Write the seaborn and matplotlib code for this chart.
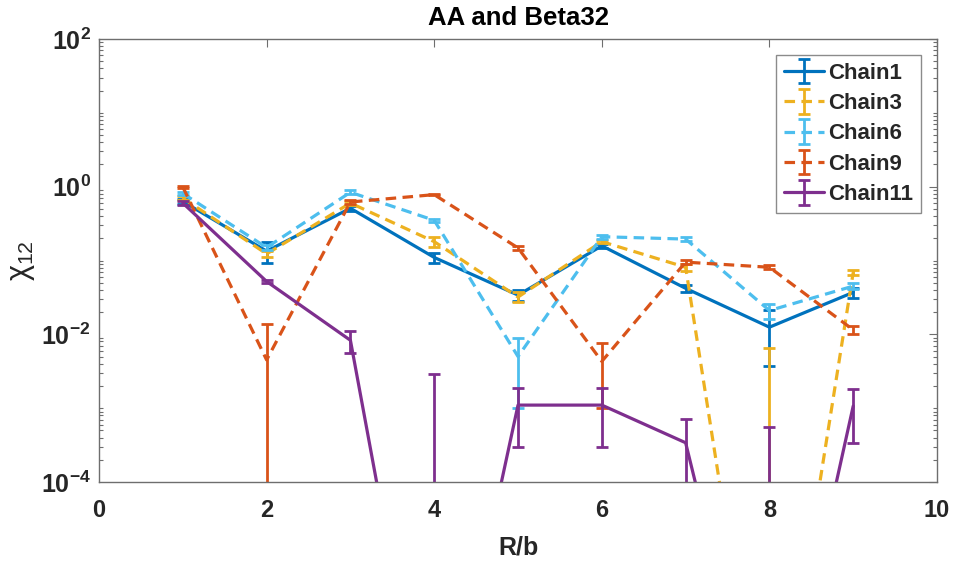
# Chi_12 vs R/b for several chains (AA and Beta32), log y axis with error bars

import numpy as np
import pandas as pd
import matplotlib
matplotlib.use("Agg")
import matplotlib.pyplot as plt
import matplotlib.ticker as mticker
from matplotlib.container import ErrorbarContainer
from matplotlib.legend_handler import HandlerErrorbar, HandlerTuple
import seaborn as sns

# Data (tiny values sit far below the axis floor)
r_values = [1, 2, 3, 4, 5, 6, 7, 8, 9]
chain_names = ["Chain1", "Chain3", "Chain6", "Chain9", "Chain11"]

chain1 = [0.63, 0.134, 0.51, 0.11, 0.034, 0.158, 0.042, 0.0125, 0.037]
chain1_err = [0.05, 0.042, 0.04, 0.018, 0.006, 0.01, 0.004, 0.0088, 0.006]

chain3 = [0.70, 0.123, 0.60, 0.18, 0.032, 0.18, 0.081, 5e-9, 0.069]
chain3_err = [0.05, 0.013, 0.03, 0.03, 0.005, 0.01, 0.01, 0.0065, 0.006]

chain6 = [0.81, 0.15, 0.84, 0.35, 0.005, 0.21, 0.195, 0.021, 0.045]
chain6_err = [0.05, 0.01, 0.05, 0.02, 0.004, 0.012, 0.01, 0.005, 0.004]

chain9 = [0.99, 0.0045, 0.62, 0.78, 0.148, 0.0043, 0.095, 0.081, 0.0115]
chain9_err = [0.03, 0.0095, 0.03, 0.02, 0.008, 0.0033, 0.006, 0.005, 0.0013]

chain11 = [0.60, 0.052, 0.0083, 6e-9, 0.0011, 0.0011, 0.00034, 8e-9, 0.00107]
chain11_err = [0.03, 0.003, 0.0027, 0.0029, 0.0008, 0.0008, 0.00038, 0.00055, 0.00073]

colors = ["#0072BD", "#EDB120", "#4DBEEE", "#D95319", "#7E2F8E"]
dashed = [False, True, True, True, False]

x_ticks = [0, 2, 4, 6, 8, 10]
y_ticks = [1e-4, 1e-2, 1e0, 1e2]

# Build long-format table
series = [chain1, chain3, chain6, chain9, chain11]
errors = [chain1_err, chain3_err, chain6_err, chain9_err, chain11_err]
rows = []
for name, vals, errs in zip(chain_names, series, errors):
    for r, v, e in zip(r_values, vals, errs):
        rows.append({"Chain": name, "R": r, "chi": v, "err": e})
df = pd.DataFrame(rows)

sns.set_theme(style="white")
plt.rcParams["font.family"] = ["Liberation Sans", "DejaVu Sans"]
plt.rcParams["font.weight"] = "bold"
plt.rcParams["mathtext.fontset"] = "custom"
plt.rcParams["mathtext.rm"] = "Liberation Sans:normal"
plt.rcParams["mathtext.bf"] = "Liberation Sans:bold"
plt.rcParams["mathtext.it"] = "Liberation Sans:normal"

fig = plt.figure(figsize=(9.54, 5.63), dpi=100)
ax = fig.add_axes([0.1038, 0.1439, 0.8784, 0.7868])
ax.set_yscale("log")

handles = []
for name, color, dash in zip(chain_names, colors, dashed):
    sub = df[df["Chain"] == name]
    ls = (0, (3.3, 2.0)) if dash else "-"
    sns.lineplot(data=sub, x="R", y="chi", color=color, linewidth=2.3,
                 linestyle=ls, ax=ax, legend=False)
    line = ax.lines[-1]
    eb = ax.errorbar(sub["R"], sub["chi"], yerr=sub["err"], fmt="none",
                     ecolor=color, elinewidth=2.0, capsize=4.5, capthick=2.0)
    handles.append((line, eb))

ax.set_xlim(0, 10)
ax.set_ylim(1e-4, 1e2)
ax.set_xticks(x_ticks)
ax.set_xticklabels([str(t) for t in x_ticks])
ax.yaxis.set_major_locator(mticker.FixedLocator(y_ticks))
ax.yaxis.set_minor_locator(mticker.LogLocator(base=10, subs=np.arange(1, 10), numticks=20))
ax.yaxis.set_major_formatter(mticker.FuncFormatter(
    lambda v, p: r"$\mathbf{10^{%d}}$" % int(round(np.log10(v)))))
ax.yaxis.set_minor_formatter(mticker.NullFormatter())

for sp in ax.spines.values():
    sp.set_color("#6e6e6e")
    sp.set_linewidth(1.0)
ax.tick_params(axis="both", which="major", direction="in", length=6, width=0.8,
               color="#6e6e6e", labelcolor="#262626", top=True, right=True)
ax.tick_params(axis="x", which="major", labelsize=17, pad=12)
ax.tick_params(axis="y", which="major", labelsize=18, pad=6)
ax.tick_params(axis="y", which="minor", direction="in", length=3, width=0.8,
               color="#6e6e6e", left=True, right=True)
for lab in ax.get_xticklabels():
    lab.set_fontweight("bold")

ax.set_title("AA and Beta32", fontsize=18.5, fontweight="bold", color="#000000", pad=10)
ax.set_xlabel("R/b", fontsize=18, fontweight="bold", color="#262626", labelpad=10)
ax.set_ylabel(r"$\chi_{12}$", fontsize=22, fontweight="normal", color="#262626")
ax.yaxis.set_label_coords(-0.074, 0.5)

leg = ax.legend(handles, chain_names, loc="upper right",
                bbox_to_anchor=(0.981, 0.964), borderaxespad=0,
                fontsize=16, handlelength=1.8, handletextpad=0.2,
                labelspacing=0.42, borderpad=0.35, frameon=True, fancybox=False,
                handler_map={tuple: HandlerTuple(ndivide=1),
                             ErrorbarContainer: HandlerErrorbar(yerr_size=0.55)})
leg.get_frame().set_edgecolor("#6e6e6e")
leg.get_frame().set_linewidth(1.0)
for t in leg.get_texts():
    t.set_fontweight("bold")

fig.savefig("out.png", dpi=100)
